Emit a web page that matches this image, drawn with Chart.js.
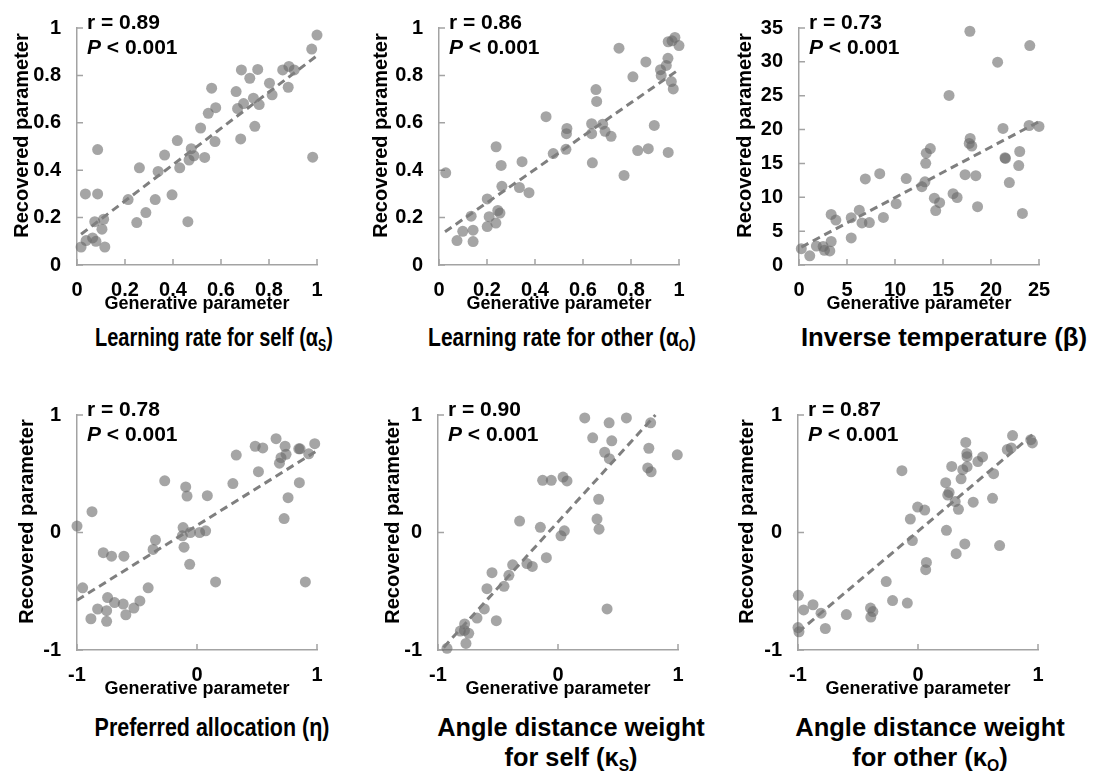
<!DOCTYPE html>
<html>
<head>
<meta charset="utf-8">
<script src="https://cdn.jsdelivr.net/npm/chart.js@4.4.0/dist/chart.umd.min.js"></script>
<style>
  body { margin: 0; background: #fff; }
  #wrap { position: relative; width: 1097px; height: 778px; overflow: hidden;
          font-family: "Liberation Sans", Arial, sans-serif; }
  #wrap canvas { position: absolute; }
  .cap { position: absolute; font-weight: bold; font-size: 26px; line-height: 30px;
         white-space: nowrap; text-align: center; color: #000; transform-origin: center top; }
  .cap sub { font-size: 16px; vertical-align: -5px; }
</style>
</head>
<body>
<div id="wrap"></div>
<script>
// ---- data ----
const rValues = ['0.89', '0.86', '0.73', '0.78', '0.90', '0.87'];

// learning rate for self
const alphaSelfGen = [0.017,0.038,0.035,0.065,0.079,0.074,0.086,0.086,0.104,0.111,0.116,0.213,0.249,0.26,0.287,0.326,0.338,0.365,0.396,0.418,0.428,0.462,0.467,0.476,0.487,0.515,0.532,0.547,0.561,0.575,0.578,0.663,0.669,0.682,0.685,0.694,0.72,0.735,0.741,0.753,0.759,0.802,0.813,0.857,0.88,0.883,0.905,0.978,0.982,1.0];
const alphaSelfRec = [0.076,0.103,0.30,0.114,0.10,0.183,0.30,0.487,0.151,0.193,0.076,0.276,0.179,0.41,0.221,0.276,0.395,0.464,0.296,0.525,0.41,0.183,0.443,0.491,0.461,0.578,0.454,0.64,0.746,0.521,0.664,0.732,0.66,0.532,0.823,0.681,0.788,0.704,0.585,0.825,0.677,0.767,0.718,0.823,0.75,0.838,0.823,0.911,0.455,0.97];
const alphaSelfFitX = [0.017, 0.996];
const alphaSelfFitY = [0.13, 0.88];

// learning rate for other
const alphaOtherGen = [0.028,0.075,0.099,0.134,0.142,0.142,0.201,0.201,0.209,0.237,0.238,0.245,0.254,0.259,0.262,0.335,0.346,0.375,0.446,0.476,0.529,0.533,0.531,0.636,0.636,0.639,0.654,0.657,0.682,0.692,0.717,0.75,0.771,0.808,0.828,0.862,0.872,0.897,0.923,0.926,0.947,0.954,0.955,0.955,0.968,0.976,0.983,0.971,1.0];
const alphaOtherRec = [0.389,0.103,0.142,0.206,0.147,0.099,0.279,0.162,0.204,0.177,0.499,0.23,0.219,0.42,0.332,0.327,0.436,0.305,0.626,0.47,0.488,0.576,0.554,0.596,0.554,0.431,0.74,0.69,0.594,0.564,0.543,0.915,0.378,0.794,0.483,0.857,0.491,0.589,0.824,0.8,0.842,0.872,0.475,0.942,0.774,0.743,0.96,0.946,0.926];
const alphaOtherFitX = [0.025, 1.0];
const alphaOtherFitY = [0.14, 0.825];

// inverse temperature
const betaGen = [0.24,1.12,1.81,2.51,2.65,3.21,3.35,3.35,3.84,5.44,5.44,6.28,6.56,7.33,6.91,8.41,8.79,10.12,11.17,12.8,13.12,13.2,13.26,13.68,14.1,14.24,14.65,15.63,16.05,16.47,17.3,17.8,17.83,17.73,18.0,18.42,18.6,20.69,21.25,21.46,21.5,21.91,22.89,22.99,23.27,23.97,24.04,25.0];
const betaRec = [2.41,1.35,2.79,2.74,2.17,2.07,3.47,7.46,6.64,4.0,6.98,8.09,6.21,6.26,12.71,13.48,7.03,9.05,12.76,11.56,12.28,15.02,16.51,17.19,9.87,8.04,9.2,25.04,10.54,9.97,13.34,34.52,18.68,17.96,17.57,13.19,8.62,29.95,20.17,15.84,15.74,12.18,14.68,16.76,7.61,20.6,32.4,20.46];
const betaFitX = [0.24, 24.9];
const betaFitY = [2.65, 21.1];

// preferred allocation
const etaGen = [-1.0,-0.953,-0.875,-0.884,-0.828,-0.781,-0.753,-0.753,-0.745,-0.712,-0.687,-0.615,-0.609,-0.593,-0.526,-0.476,-0.407,-0.366,-0.346,-0.269,-0.116,-0.122,-0.108,-0.094,-0.083,-0.061,-0.055,0.022,0.072,0.086,0.155,0.299,0.327,0.485,0.512,0.548,0.659,0.687,0.7,0.734,0.742,0.726,0.759,0.848,0.859,0.853,0.903,0.931,0.981];
const etaRec = [0.055,-0.471,0.177,-0.734,-0.651,-0.172,-0.665,-0.756,-0.554,-0.202,-0.596,-0.609,-0.202,-0.7,-0.643,-0.582,-0.471,-0.144,-0.064,0.44,0.042,-0.028,-0.125,0.388,0.31,-0.271,0.0,0.0,0.014,0.313,-0.421,0.416,0.659,0.734,0.518,0.72,0.798,0.59,0.637,0.734,0.665,0.119,0.296,0.712,0.712,0.424,-0.421,0.67,0.756];
const etaFitX = [-1.0, 0.986];
const etaFitY = [-0.576, 0.687];

// angle distance weight for self
const kappaSelfGen = [-0.925,-0.814,-0.778,-0.744,-0.767,-0.78,-0.675,-0.614,-0.592,-0.55,-0.514,-0.45,-0.409,-0.378,-0.32,-0.259,-0.214,-0.147,-0.128,-0.097,-0.056,0.025,0.053,0.042,0.075,0.223,0.289,0.325,0.339,0.342,0.389,0.409,0.426,0.428,0.448,0.57,0.757,0.748,0.776,0.772,0.994];
const kappaSelfRec = [-0.986,-0.839,-0.778,-0.858,-0.944,-0.833,-0.728,-0.65,-0.478,-0.342,-0.75,-0.458,-0.364,-0.275,0.097,-0.264,-0.289,0.044,0.444,-0.214,0.444,-0.028,0.014,0.472,0.439,0.975,0.806,0.114,0.283,0.028,0.683,-0.65,0.933,0.628,0.78,0.975,0.717,0.55,0.517,0.933,0.661];
const kappaSelfFitX = [-0.953, 0.812];
const kappaSelfFitY = [-0.978, 1.0];

// angle distance weight for other
const kappaOtherGen = [-0.997,-1.0,-0.992,-0.953,-0.875,-0.808,-0.772,-0.597,-0.396,-0.376,-0.393,-0.265,-0.212,-0.134,-0.089,-0.064,-0.047,-0.003,0.056,0.07,0.064,0.231,0.237,0.248,0.259,0.281,0.318,0.337,0.359,0.373,0.39,0.398,0.407,0.409,0.409,0.46,0.499,0.538,0.621,0.63,0.68,0.744,0.788,0.777,0.31,0.94,0.953];
const kappaOtherRec = [-0.535,-0.809,-0.845,-0.659,-0.615,-0.687,-0.817,-0.698,-0.643,-0.673,-0.72,-0.418,-0.579,0.526,-0.601,0.114,-0.069,0.216,0.191,-0.255,-0.316,0.424,0.019,0.319,0.341,0.562,-0.18,0.197,0.457,0.535,-0.097,0.767,0.673,0.645,0.56,0.258,0.604,0.643,0.291,0.501,-0.111,0.706,0.825,0.72,0.263,0.79,0.762];
const kappaOtherFitX = [-1.0, 0.953];
const kappaOtherFitY = [-0.85, 0.83];

// axis ranges: [min, max, step]
const unitTicks = [0, 1, 0.2];
const betaXTicks = [0, 25, 5];
const betaYTicks = [0, 35, 5];
const signedTicks = [-1, 1, 1];

const captions = [
  'Learning rate for self (α<sub>S</sub>)',
  'Learning rate for other (α<sub>O</sub>)',
  'Inverse temperature (β)',
  'Preferred allocation (η)',
  'Angle distance weight<br>for self (κ<sub>S</sub>)',
  'Angle distance weight<br>for other (κ<sub>O</sub>)'
];

// ---- layout ----
const panels = [
  { gen: alphaSelfGen, rec: alphaSelfRec, fx: alphaSelfFitX, fy: alphaSelfFitY, xt: unitTicks, yt: unitTicks,
    left: 0, top: 0, h: 315, yTitleX: 22, capX: 214, capY: 322, capW: 238 },
  { gen: alphaOtherGen, rec: alphaOtherRec, fx: alphaOtherFitX, fy: alphaOtherFitY, xt: unitTicks, yt: unitTicks,
    left: 362, top: 0, h: 315, yTitleX: 19, capX: 562, capY: 322, capW: 268 },
  { gen: betaGen, rec: betaRec, fx: betaFitX, fy: betaFitY, xt: betaXTicks, yt: betaYTicks,
    left: 722, top: 0, h: 315, yTitleX: 23, capX: 944, capY: 322, capW: 286 },
  { gen: etaGen, rec: etaRec, fx: etaFitX, fy: etaFitY, xt: signedTicks, yt: signedTicks,
    left: 0, top: 387, h: 313, yTitleX: 27, capX: 212, capY: 712, capW: 235 },
  { gen: kappaSelfGen, rec: kappaSelfRec, fx: kappaSelfFitX, fy: kappaSelfFitY, xt: signedTicks, yt: signedTicks,
    left: 361, top: 387, h: 313, yTitleX: 32, capX: 571, capY: 712, capW: 268 },
  { gen: kappaOtherGen, rec: kappaOtherRec, fx: kappaOtherFitX, fy: kappaOtherFitY, xt: signedTicks, yt: signedTicks,
    left: 721, top: 387, h: 313, yTitleX: 26, capX: 930, capY: 712, capW: 270 }
];

const axisGray = '#a3a3a3';
const font = '"Liberation Sans", Arial, sans-serif';
Chart.defaults.font.family = font;
Chart.defaults.color = '#000';

// Excel style tick marks pointing into the plot
const innerTicks = {
  id: 'innerTicks',
  beforeDatasetsDraw(chart) {
    const { ctx, chartArea: a, scales: { x, y } } = chart;
    ctx.save();
    ctx.strokeStyle = axisGray;
    ctx.lineWidth = 1.5;
    ctx.beginPath();
    x.ticks.forEach(t => {
      const px = x.getPixelForValue(t.value);
      ctx.moveTo(px, a.bottom);
      ctx.lineTo(px, a.bottom - 6);
    });
    y.ticks.forEach(t => {
      const py = y.getPixelForValue(t.value);
      ctx.moveTo(a.left, py);
      ctx.lineTo(a.left + 6, py);
    });
    ctx.stroke();
    ctx.restore();
  }
};

// y title (sits a little above centre, as in the figure) and the r / P note
const panelText = {
  id: 'panelText',
  afterDraw(chart, args, opts) {
    const { ctx, chartArea: a } = chart;
    ctx.save();
    ctx.fillStyle = '#000';
    ctx.textBaseline = 'middle';

    ctx.save();
    ctx.translate(opts.yTitleX, (a.top + a.bottom) / 2 - 11);
    ctx.rotate(-Math.PI / 2);
    ctx.textAlign = 'center';
    ctx.font = 'bold 20px ' + font;
    ctx.fillText('Recovered parameter', 0, 0);
    ctx.restore();

    const x0 = a.left + 10;
    ctx.font = 'bold 21px ' + font;
    ctx.fillText('r = ' + opts.r, x0, a.top - 5);
    ctx.font = 'italic bold 21px ' + font;
    ctx.fillText('P', x0, a.top + 20);
    const w = ctx.measureText('P').width;
    ctx.font = 'bold 21px ' + font;
    ctx.fillText(' < 0.001', x0 + w, a.top + 20);
    ctx.restore();
  }
};

function axis(t, isX) {
  return {
    type: 'linear',
    min: t[0],
    max: t[1],
    ticks: { stepSize: t[2], padding: isX ? 13 : 16, font: { size: 20, weight: 'bold' },
             maxRotation: 0, autoSkip: false,
             callback: v => String(+v.toFixed(2)) },
    grid: { display: true, drawOnChartArea: false, drawTicks: false },
    border: { display: true, color: axisGray, width: 1.5 },
    title: isX
      ? { display: true, text: 'Generative parameter', color: '#000',
          font: { size: 18, weight: 'bold', lineHeight: 1.2 }, padding: { top: 0, bottom: 0 } }
      : { display: false },
    afterFit: s => { if (isX) s.height = 50; else s.width = 77; }
  };
}

const wrap = document.getElementById('wrap');
panels.forEach((p, i) => {
  const cv = document.createElement('canvas');
  cv.width = 347;
  cv.height = p.h;
  cv.style.left = p.left + 'px';
  cv.style.top = p.top + 'px';
  wrap.appendChild(cv);

  const cap = document.createElement('div');
  cap.className = 'cap';
  cap.style.left = p.capX + 'px';
  cap.style.top = p.capY + 'px';
  cap.innerHTML = captions[i];
  wrap.appendChild(cap);
  const k = p.capW / cap.offsetWidth;
  cap.style.transform = 'translateX(-50%) scaleX(' + k.toFixed(3) + ')';

  new Chart(cv, {
    type: 'scatter',
    data: {
      datasets: [
        {
          data: p.gen.map((g, j) => ({ x: g, y: p.rec[j] })),
          backgroundColor: 'rgba(105,105,105,0.6)',
          borderWidth: 0,
          pointRadius: 5.5,
          clip: false,
          order: 1
        },
        {
          data: p.fx.map((g, j) => ({ x: g, y: p.fy[j] })),
          showLine: true,
          borderColor: '#7f7f7f',
          borderWidth: 3,
          borderDash: [8, 5],
          pointRadius: 0,
          clip: false,
          order: 0
        }
      ]
    },
    options: {
      responsive: false,
      animation: false,
      devicePixelRatio: 1,
      layout: { padding: { top: 22, right: 30, left: 0, bottom: 0 } },
      scales: {
        x: axis(p.xt, true),
        y: axis(p.yt, false)
      },
      plugins: {
        legend: { display: false },
        tooltip: { enabled: false },
        panelText: { r: rValues[i], yTitleX: p.yTitleX }
      }
    },
    plugins: [innerTicks, panelText]
  });
});
</script>
</body>
</html>
